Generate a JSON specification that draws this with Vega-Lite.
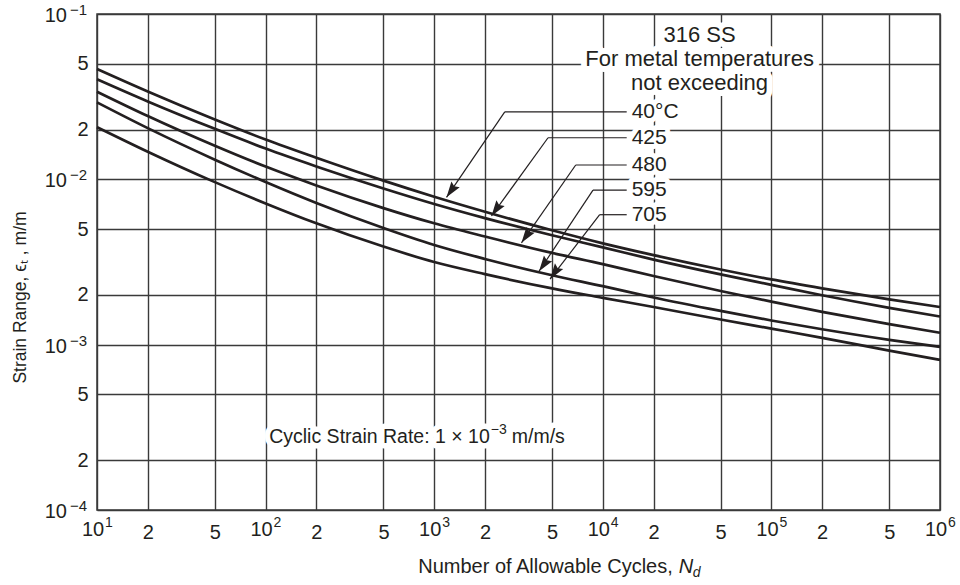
{
  "$schema": "https://vega.github.io/schema/vega-lite/v6.json",
  "width": 843,
  "height": 496,
  "autosize": "none",
  "padding": {"left": 97, "top": 14, "right": 20, "bottom": 75},
  "background": "white",
  "config": {
    "font": "Liberation Sans",
    "view": {"stroke": "#3a3a3a", "strokeWidth": 1.5},
    "axis": {
      "grid": true, "gridColor": "#3a3a3a", "gridWidth": 1.4, "gridOpacity": 1,
      "ticks": false, "domain": false,
      "labelFont": "Liberation Sans", "labelFontSize": 20, "labelColor": "#231f20",
      "labelFlush": false, "labelOverlap": false, "labelBound": false,
      "titleFont": "Liberation Sans", "titleFontWeight": "normal", "titleColor": "#231f20"
    },
    "text": {"font": "Liberation Sans", "color": "#231f20"}
  },
  "datasets": {
    "curves": [
      {"T": "40°C", "N": 10, "e": 0.0465}, {"T": "40°C", "N": 20, "e": 0.034}, {"T": "40°C", "N": 50, "e": 0.023}, {"T": "40°C", "N": 100, "e": 0.0174},
      {"T": "40°C", "N": 200, "e": 0.0135}, {"T": "40°C", "N": 500, "e": 0.00982}, {"T": "40°C", "N": 1000, "e": 0.00785}, {"T": "40°C", "N": 2000, "e": 0.00637},
      {"T": "40°C", "N": 5000, "e": 0.00492}, {"T": "40°C", "N": 10000, "e": 0.0041}, {"T": "40°C", "N": 20000, "e": 0.00348}, {"T": "40°C", "N": 50000, "e": 0.00285},
      {"T": "40°C", "N": 100000, "e": 0.00248}, {"T": "40°C", "N": 200000, "e": 0.00219}, {"T": "40°C", "N": 500000, "e": 0.00188}, {"T": "40°C", "N": 1000000, "e": 0.00169},
      {"T": "425", "N": 10, "e": 0.0403}, {"T": "425", "N": 20, "e": 0.0296}, {"T": "425", "N": 50, "e": 0.0202}, {"T": "425", "N": 100, "e": 0.01535},
      {"T": "425", "N": 200, "e": 0.01197}, {"T": "425", "N": 500, "e": 0.00881}, {"T": "425", "N": 1000, "e": 0.0071}, {"T": "425", "N": 2000, "e": 0.00583},
      {"T": "425", "N": 5000, "e": 0.00459}, {"T": "425", "N": 10000, "e": 0.00388}, {"T": "425", "N": 20000, "e": 0.00327}, {"T": "425", "N": 50000, "e": 0.00266},
      {"T": "425", "N": 100000, "e": 0.0023}, {"T": "425", "N": 200000, "e": 0.00199}, {"T": "425", "N": 500000, "e": 0.00167}, {"T": "425", "N": 1000000, "e": 0.00148},
      {"T": "480", "N": 10, "e": 0.0339}, {"T": "480", "N": 20, "e": 0.02415}, {"T": "480", "N": 50, "e": 0.01596}, {"T": "480", "N": 100, "e": 0.01194},
      {"T": "480", "N": 200, "e": 0.00918}, {"T": "480", "N": 500, "e": 0.0067}, {"T": "480", "N": 1000, "e": 0.00542}, {"T": "480", "N": 2000, "e": 0.00451},
      {"T": "480", "N": 5000, "e": 0.00359}, {"T": "480", "N": 10000, "e": 0.00307}, {"T": "480", "N": 20000, "e": 0.0026}, {"T": "480", "N": 50000, "e": 0.00211},
      {"T": "480", "N": 100000, "e": 0.00182}, {"T": "480", "N": 200000, "e": 0.00158}, {"T": "480", "N": 500000, "e": 0.00133}, {"T": "480", "N": 1000000, "e": 0.00118},
      {"T": "595", "N": 10, "e": 0.0292}, {"T": "595", "N": 20, "e": 0.0204}, {"T": "595", "N": 50, "e": 0.01315}, {"T": "595", "N": 100, "e": 0.00964},
      {"T": "595", "N": 200, "e": 0.0072}, {"T": "595", "N": 500, "e": 0.00508}, {"T": "595", "N": 1000, "e": 0.00401}, {"T": "595", "N": 2000, "e": 0.0033},
      {"T": "595", "N": 5000, "e": 0.00263}, {"T": "595", "N": 10000, "e": 0.00226}, {"T": "595", "N": 20000, "e": 0.00193}, {"T": "595", "N": 50000, "e": 0.0016},
      {"T": "595", "N": 100000, "e": 0.0014}, {"T": "595", "N": 200000, "e": 0.00124}, {"T": "595", "N": 500000, "e": 0.00107}, {"T": "595", "N": 1000000, "e": 0.00097},
      {"T": "705", "N": 10, "e": 0.0207}, {"T": "705", "N": 20, "e": 0.0147}, {"T": "705", "N": 50, "e": 0.00962}, {"T": "705", "N": 100, "e": 0.00715},
      {"T": "705", "N": 200, "e": 0.00542}, {"T": "705", "N": 500, "e": 0.00392}, {"T": "705", "N": 1000, "e": 0.00316}, {"T": "705", "N": 2000, "e": 0.00267},
      {"T": "705", "N": 5000, "e": 0.00219}, {"T": "705", "N": 10000, "e": 0.00192}, {"T": "705", "N": 20000, "e": 0.00169}, {"T": "705", "N": 50000, "e": 0.00142},
      {"T": "705", "N": 100000, "e": 0.00125}, {"T": "705", "N": 200000, "e": 0.0011}, {"T": "705", "N": 500000, "e": 0.00092}, {"T": "705", "N": 1000000, "e": 0.00081}
    ],
    "leaders": [
      {"T": "40°C", "N": 13860, "e": 0.0256, "N2": 2621, "e2": 0.0256},
      {"T": "40°C", "N": 2621, "e": 0.0256, "N2": 1183, "e2": 0.00778},
      {"T": "425", "N": 13860, "e": 0.01785, "N2": 4734, "e2": 0.01785},
      {"T": "425", "N": 4734, "e": 0.01785, "N2": 2186, "e2": 0.006},
      {"T": "480", "N": 13860, "e": 0.01221, "N2": 6908, "e2": 0.01221},
      {"T": "480", "N": 6908, "e": 0.01221, "N2": 3293, "e2": 0.00413},
      {"T": "595", "N": 13860, "e": 0.00861, "N2": 8748, "e2": 0.00861},
      {"T": "595", "N": 8748, "e": 0.00861, "N2": 4186, "e2": 0.00278},
      {"T": "705", "N": 13860, "e": 0.00611, "N2": 9585, "e2": 0.00611},
      {"T": "705", "N": 9585, "e": 0.00611, "N2": 4864, "e2": 0.00249}
    ],
    "tips": [
      {"T": "40°C", "N": 1183, "e": 0.00778},
      {"T": "425", "N": 2186, "e": 0.006},
      {"T": "480", "N": 3293, "e": 0.00413},
      {"T": "595", "N": 4186, "e": 0.00278},
      {"T": "705", "N": 4864, "e": 0.00249}
    ],
    "labels": [
      {"t": "40°C", "N": 14830, "e": 0.0256},
      {"t": "425", "N": 14830, "e": 0.01785},
      {"t": "480", "N": 14830, "e": 0.01221},
      {"t": "595", "N": 14830, "e": 0.00861},
      {"t": "705", "N": 14830, "e": 0.00611}
    ],
    "notes": [
      {"t": "316 SS", "N": 37500, "e": 0.0746},
      {"t": "For metal temperatures", "N": 37500, "e": 0.0534},
      {"t": "not exceeding", "N": 37500, "e": 0.0383}
    ],
    "rate": [
      {"a": "Cyclic Strain Rate: 1 × 10", "b": "−3", "c": "m/m/s", "N": 2136, "e": 0.000276}
    ],
    "xdec": [
      {"N": 10, "p": "1"}, {"N": 100, "p": "2"}, {"N": 1000, "p": "3"},
      {"N": 10000, "p": "4"}, {"N": 100000, "p": "5"}, {"N": 1000000, "p": "6"}
    ],
    "ydec": [
      {"e": 0.1, "p": "−1"}, {"e": 0.01, "p": "−2"}, {"e": 0.001, "p": "−3"}, {"e": 0.0001, "p": "−4"}
    ]
  },
  "layer": [
    {
      "data": {"name": "curves"},
      "mark": {"type": "line", "color": "#231f20", "strokeWidth": 2.7, "interpolate": "monotone"},
      "encoding": {
        "x": {"field": "N", "type": "quantitative", "scale": {"type": "log", "domain": [10, 1000000], "nice": false},
          "axis": {"title": null, "values": [10, 20, 50, 100, 200, 500, 1000, 2000, 5000, 10000, 20000, 50000, 100000, 200000, 500000, 1000000],
            "labelPadding": 12,
            "labelExpr": "abs(log(datum.value) / LN10 - round(log(datum.value) / LN10)) < 0.001 ? '' : format(datum.value / pow(10, floor(log(datum.value) / LN10 + 0.000001)), '.0f')"}},
        "y": {"field": "e", "type": "quantitative", "scale": {"type": "log", "domain": [0.0001, 0.1], "nice": false},
          "axis": {"title": "Strain Range, ϵₜ , m/m", "titleFontSize": 17.5, "titleX": -77, "titleY": 283, "titleBaseline": "middle", "titleAngle": -90, "titleAlign": "center",
            "values": [0.0001, 0.0002, 0.0005, 0.001, 0.002, 0.005, 0.01, 0.02, 0.05, 0.1],
            "labelPadding": 9,
            "labelExpr": "abs(log(datum.value) / LN10 - round(log(datum.value) / LN10)) < 0.001 ? '' : format(datum.value / pow(10, floor(log(datum.value) / LN10 + 0.000001)), '.0f')"}},
        "detail": {"field": "T"}
      }
    },
    {
      "data": {"name": "leaders"},
      "mark": {"type": "rule", "color": "#231f20", "strokeWidth": 1.2},
      "encoding": {
        "x": {"field": "N", "type": "quantitative", "scale": {"type": "log", "domain": [10, 1000000], "nice": false}},
        "x2": {"field": "N2"},
        "y": {"field": "e", "type": "quantitative", "scale": {"type": "log", "domain": [0.0001, 0.1], "nice": false}},
        "y2": {"field": "e2"}
      }
    },
    {
      "data": {"name": "tips"},
      "mark": {"type": "point", "shape": "M0,0L-0.32,-1L0,-0.85L0.32,-1Z", "filled": true, "size": 1000, "angle": 35, "color": "#231f20", "opacity": 1, "strokeWidth": 0},
      "encoding": {
        "x": {"field": "N", "type": "quantitative", "scale": {"type": "log", "domain": [10, 1000000], "nice": false}},
        "y": {"field": "e", "type": "quantitative", "scale": {"type": "log", "domain": [0.0001, 0.1], "nice": false}}
      }
    },
    {
      "data": {"name": "notes"},
      "mark": {"type": "text", "align": "center", "baseline": "middle", "fontSize": 22, "fill": "white", "stroke": "white", "strokeWidth": 12, "strokeJoin": "round"},
      "encoding": {
        "x": {"field": "N", "type": "quantitative", "scale": {"type": "log", "domain": [10, 1000000], "nice": false}},
        "y": {"field": "e", "type": "quantitative", "scale": {"type": "log", "domain": [0.0001, 0.1], "nice": false}},
        "text": {"field": "t"}
      }
    },
    {
      "data": {"name": "rate"},
      "mark": {"type": "text", "align": "right", "baseline": "middle", "fontSize": 19.5, "fill": "white", "stroke": "white", "strokeWidth": 11, "strokeJoin": "round"},
      "encoding": {
        "x": {"field": "N", "type": "quantitative", "scale": {"type": "log", "domain": [10, 1000000], "nice": false}},
        "y": {"field": "e", "type": "quantitative", "scale": {"type": "log", "domain": [0.0001, 0.1], "nice": false}},
        "text": {"field": "a"}
      }
    },
    {
      "data": {"name": "rate"},
      "mark": {"type": "text", "align": "left", "baseline": "middle", "fontSize": 14, "fill": "white", "stroke": "white", "strokeWidth": 11, "strokeJoin": "round", "dx": 1, "dy": -7},
      "encoding": {
        "x": {"field": "N", "type": "quantitative", "scale": {"type": "log", "domain": [10, 1000000], "nice": false}},
        "y": {"field": "e", "type": "quantitative", "scale": {"type": "log", "domain": [0.0001, 0.1], "nice": false}},
        "text": {"field": "b"}
      }
    },
    {
      "data": {"name": "rate"},
      "mark": {"type": "text", "align": "left", "baseline": "middle", "fontSize": 19.5, "fill": "white", "stroke": "white", "strokeWidth": 11, "strokeJoin": "round", "dx": 22},
      "encoding": {
        "x": {"field": "N", "type": "quantitative", "scale": {"type": "log", "domain": [10, 1000000], "nice": false}},
        "y": {"field": "e", "type": "quantitative", "scale": {"type": "log", "domain": [0.0001, 0.1], "nice": false}},
        "text": {"field": "c"}
      }
    },
    {
      "data": {"name": "labels"},
      "mark": {"type": "text", "align": "left", "baseline": "middle", "fontSize": 21, "fill": "white", "stroke": "white", "strokeWidth": 10, "strokeJoin": "round"},
      "encoding": {
        "x": {"field": "N", "type": "quantitative", "scale": {"type": "log", "domain": [10, 1000000], "nice": false}},
        "y": {"field": "e", "type": "quantitative", "scale": {"type": "log", "domain": [0.0001, 0.1], "nice": false}},
        "text": {"field": "t"}
      }
    },
    {
      "data": {"name": "notes"},
      "mark": {"type": "text", "align": "center", "baseline": "middle", "fontSize": 22, "color": "#231f20"},
      "encoding": {
        "x": {"field": "N", "type": "quantitative", "scale": {"type": "log", "domain": [10, 1000000], "nice": false}},
        "y": {"field": "e", "type": "quantitative", "scale": {"type": "log", "domain": [0.0001, 0.1], "nice": false}},
        "text": {"field": "t"}
      }
    },
    {
      "data": {"name": "rate"},
      "mark": {"type": "text", "align": "right", "baseline": "middle", "fontSize": 19.5, "color": "#231f20"},
      "encoding": {
        "x": {"field": "N", "type": "quantitative", "scale": {"type": "log", "domain": [10, 1000000], "nice": false}},
        "y": {"field": "e", "type": "quantitative", "scale": {"type": "log", "domain": [0.0001, 0.1], "nice": false}},
        "text": {"field": "a"}
      }
    },
    {
      "data": {"name": "rate"},
      "mark": {"type": "text", "align": "left", "baseline": "middle", "fontSize": 14, "color": "#231f20", "dx": 1, "dy": -7},
      "encoding": {
        "x": {"field": "N", "type": "quantitative", "scale": {"type": "log", "domain": [10, 1000000], "nice": false}},
        "y": {"field": "e", "type": "quantitative", "scale": {"type": "log", "domain": [0.0001, 0.1], "nice": false}},
        "text": {"field": "b"}
      }
    },
    {
      "data": {"name": "rate"},
      "mark": {"type": "text", "align": "left", "baseline": "middle", "fontSize": 19.5, "color": "#231f20", "dx": 22},
      "encoding": {
        "x": {"field": "N", "type": "quantitative", "scale": {"type": "log", "domain": [10, 1000000], "nice": false}},
        "y": {"field": "e", "type": "quantitative", "scale": {"type": "log", "domain": [0.0001, 0.1], "nice": false}},
        "text": {"field": "c"}
      }
    },
    {
      "data": {"name": "labels"},
      "mark": {"type": "text", "align": "left", "baseline": "middle", "fontSize": 21, "color": "#231f20"},
      "encoding": {
        "x": {"field": "N", "type": "quantitative", "scale": {"type": "log", "domain": [10, 1000000], "nice": false}},
        "y": {"field": "e", "type": "quantitative", "scale": {"type": "log", "domain": [0.0001, 0.1], "nice": false}},
        "text": {"field": "t"}
      }
    },
    {
      "data": {"name": "xdec"},
      "mark": {"type": "text", "text": "10", "align": "center", "baseline": "middle", "fontSize": 20, "color": "#231f20", "dx": -4, "dy": 20},
      "encoding": {
        "x": {"field": "N", "type": "quantitative", "scale": {"type": "log", "domain": [10, 1000000], "nice": false}},
        "y": {"datum": 0.0001, "type": "quantitative", "scale": {"type": "log", "domain": [0.0001, 0.1], "nice": false}}
      }
    },
    {
      "data": {"name": "xdec"},
      "mark": {"type": "text", "align": "left", "baseline": "middle", "fontSize": 14, "color": "#231f20", "dx": 8, "dy": 13},
      "encoding": {
        "x": {"field": "N", "type": "quantitative", "scale": {"type": "log", "domain": [10, 1000000], "nice": false}},
        "y": {"datum": 0.0001, "type": "quantitative", "scale": {"type": "log", "domain": [0.0001, 0.1], "nice": false}},
        "text": {"field": "p"}
      }
    },
    {
      "data": {"name": "ydec"},
      "mark": {"type": "text", "text": "10", "align": "right", "baseline": "middle", "fontSize": 20, "color": "#231f20", "dx": -30, "dy": 2},
      "encoding": {
        "x": {"datum": 10, "type": "quantitative", "scale": {"type": "log", "domain": [10, 1000000], "nice": false}},
        "y": {"field": "e", "type": "quantitative", "scale": {"type": "log", "domain": [0.0001, 0.1], "nice": false}}
      }
    },
    {
      "data": {"name": "ydec"},
      "mark": {"type": "text", "align": "right", "baseline": "middle", "fontSize": 15, "color": "#231f20", "dx": -10, "dy": -4},
      "encoding": {
        "x": {"datum": 10, "type": "quantitative", "scale": {"type": "log", "domain": [10, 1000000], "nice": false}},
        "y": {"field": "e", "type": "quantitative", "scale": {"type": "log", "domain": [0.0001, 0.1], "nice": false}},
        "text": {"field": "p"}
      }
    },
    {
      "data": {"values": [{}]},
      "mark": {"type": "text", "text": "Number of Allowable Cycles,", "align": "right", "baseline": "middle", "fontSize": 20, "color": "#231f20", "dy": 57},
      "encoding": {
        "x": {"datum": 26000, "type": "quantitative", "scale": {"type": "log", "domain": [10, 1000000], "nice": false}},
        "y": {"datum": 0.0001, "type": "quantitative", "scale": {"type": "log", "domain": [0.0001, 0.1], "nice": false}}
      }
    },
    {
      "data": {"values": [{}]},
      "mark": {"type": "text", "text": "N", "align": "left", "baseline": "middle", "fontSize": 20, "fontStyle": "italic", "color": "#231f20", "dx": 6, "dy": 57},
      "encoding": {
        "x": {"datum": 26000, "type": "quantitative", "scale": {"type": "log", "domain": [10, 1000000], "nice": false}},
        "y": {"datum": 0.0001, "type": "quantitative", "scale": {"type": "log", "domain": [0.0001, 0.1], "nice": false}}
      }
    },
    {
      "data": {"values": [{}]},
      "mark": {"type": "text", "text": "d", "align": "left", "baseline": "middle", "fontSize": 14, "fontStyle": "italic", "color": "#231f20", "dx": 20, "dy": 63},
      "encoding": {
        "x": {"datum": 26000, "type": "quantitative", "scale": {"type": "log", "domain": [10, 1000000], "nice": false}},
        "y": {"datum": 0.0001, "type": "quantitative", "scale": {"type": "log", "domain": [0.0001, 0.1], "nice": false}}
      }
    }
  ]
}
